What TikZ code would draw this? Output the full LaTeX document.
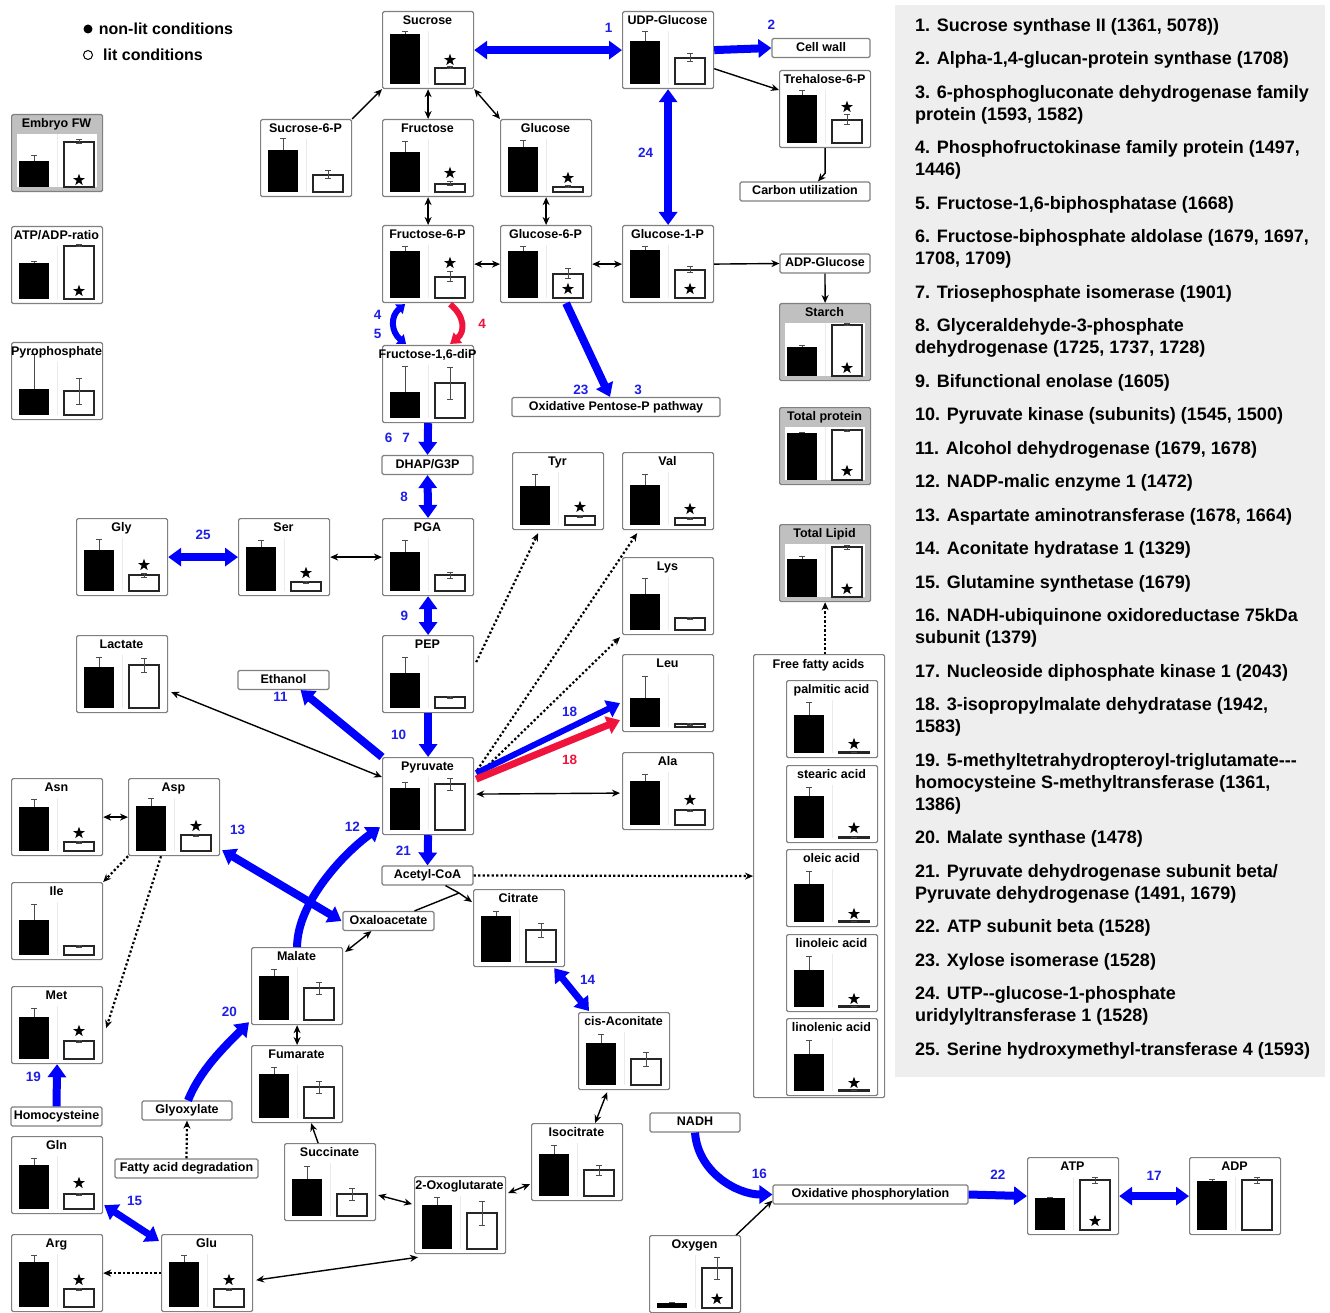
\documentclass[tikz,border=0pt]{standalone}
\usepackage{fontspec}
\setmainfont{Liberation Sans}
\usetikzlibrary{positioning, arrows.meta, shapes.geometric, calc}

\definecolor{flowblue}{RGB}{0,0,255}
\definecolor{flowred}{RGB}{240,20,60}
\definecolor{numblue}{RGB}{30,30,230}
\definecolor{boxgray}{RGB}{128,128,128}
\definecolor{panelgray}{RGB}{192,192,192}
\definecolor{legendgray}{RGB}{238,238,238}

\tikzset{
  chartbox/.style={draw=boxgray, line width=1.2pt, fill=white, rounded corners=1.5pt,
    minimum width=91pt, minimum height=77pt, inner sep=0pt},
  chartinner/.style={},
  charttitle/.style={font=\fontsize{12.5}{14}\selectfont\bfseries, inner sep=0pt, anchor=base},
  errbar/.style={draw=black!70, line width=1pt},
  whitebar/.style={draw=black!85, line width=1.2pt, fill=white},
  starmark/.style={star, star points=5, star point ratio=2.5, fill=black, inner sep=0pt, minimum size=12.5pt},
  lbl/.style={draw=boxgray, line width=1.2pt, fill=white, rounded corners=1.5pt,
    font=\fontsize{12.5}{14}\selectfont\bfseries, minimum height=19pt, inner sep=0pt,
    text height=9pt, text depth=2.5pt},
  num/.style={font=\fontsize{13.5}{15}\selectfont\bfseries, text=numblue, inner sep=1pt},
  rednum/.style={num, text=flowred},
  keytext/.style={font=\fontsize{16}{18}\selectfont\bfseries, inner sep=1pt},
  legendtext/.style={font=\fontsize{18}{22}\selectfont\bfseries, align=left, inner sep=0pt},
  bluearr/.style={draw=flowblue, line width=8pt, -{Triangle[length=13pt, width=18pt]}},
  bluedbl/.style={draw=flowblue, line width=8pt,
    {Triangle[length=13pt, width=18pt]}-{Triangle[length=13pt, width=18pt]}},
  redarr/.style={draw=flowred, line width=7pt, -{Triangle[length=13pt, width=18pt]}},
  thinarr/.style={line width=1.4pt, -{Stealth[length=8pt, width=7pt]}},
  thindbl/.style={line width=1.4pt, {Stealth[length=8pt, width=7pt]}-{Stealth[length=8pt, width=7pt]}},
  dotarr/.style={line width=2.2pt, dash pattern=on 2.2pt off 2.3pt, -{Stealth[length=8pt, width=7pt]}},
}

% chart box: name, left, top, title, black height, black error, white height, white error, star height
\newcommand{\metchart}[9]{%
  \node[chartbox, anchor=north west] (#1) at (#2,#3) {};
  \begin{scope}[shift={(#2,#3)}]
    \path[chartinner] (6,20) rectangle (86,73);
    \draw[black!8, line width=0.8pt] (46,20) -- (46,73);
    \fill (8,73) rectangle (38,{73-#5});
    \draw[errbar] (23,{73-#5}) -- (23,{73-#5-#6}) (20,{73-#5-#6}) -- (26,{73-#5-#6});
    \draw[whitebar] (53,73) rectangle (83,{73-#7});
    \draw[errbar] (68,{73-#7-#8}) -- (68,{73-#7+#8})
      (65,{73-#7-#8}) -- (71,{73-#7-#8}) (65,{73-#7+#8}) -- (71,{73-#7+#8});
    \ifnum#9>0 \node[starmark] at (68,{73-#9}) {};\fi
    \node[charttitle] at (45.5,13.5) {#4};
  \end{scope}}

\begin{document}
\begin{tikzpicture}[x=1pt, y=-1pt]
  \useasboundingbox (0,0) rectangle (1330,1313);

  % --- key ---
  \node[circle, fill=black, minimum size=9pt, inner sep=0pt] (nonlitdot) at (88,29) {};
  \node[keytext, right=5pt of nonlitdot] (nonlittext) {non-lit conditions};
  \node[circle, draw=black, line width=1pt, minimum size=9pt, inner sep=0pt] (litdot) at (88,55) {};
  \node[keytext, right=9pt of litdot] (littext) {lit conditions};

  % --- enzyme list ---
  \node[fill=legendgray, minimum width=430pt, minimum height=1072pt, inner sep=0pt, anchor=north west]
    (legendpanel) at (895,5) {};
  \node[legendtext, anchor=north west] (legendlist) at (915,18) {%
    1. Sucrose synthase II (1361, 5078))\\[11.5pt]
    2. Alpha-1,4-glucan-protein synthase (1708)\\[11.5pt]
    3. 6-phosphogluconate dehydrogenase family\\protein (1593, 1582)\\[11.5pt]
    4. Phosphofructokinase family protein (1497,\\1446)\\[11.5pt]
    5. Fructose-1,6-biphosphatase (1668)\\[11.5pt]
    6. Fructose-biphosphate aldolase (1679, 1697,\\1708, 1709)\\[11.5pt]
    7. Triosephosphate isomerase (1901)\\[11.5pt]
    8. Glyceraldehyde-3-phosphate\\dehydrogenase (1725, 1737, 1728)\\[11.5pt]
    9. Bifunctional enolase (1605)\\[11.5pt]
    10. Pyruvate kinase (subunits) (1545, 1500)\\[11.5pt]
    11. Alcohol dehydrogenase (1679, 1678)\\[11.5pt]
    12. NADP-malic enzyme 1 (1472)\\[11.5pt]
    13. Aspartate aminotransferase (1678, 1664)\\[11.5pt]
    14. Aconitate hydratase 1 (1329)\\[11.5pt]
    15. Glutamine synthetase (1679)\\[11.5pt]
    16. NADH-ubiquinone oxidoreductase 75kDa\\subunit (1379)\\[11.5pt]
    17. Nucleoside diphosphate kinase 1 (2043)\\[11.5pt]
    18. 3-isopropylmalate dehydratase (1942,\\1583)\\[11.5pt]
    19. 5-methyltetrahydropteroyl-triglutamate{-}{-}{-}\\homocysteine S-methyltransferase (1361,\\1386)\\[11.5pt]
    20. Malate synthase (1478)\\[11.5pt]
    21. Pyruvate dehydrogenase subunit beta/\\Pyruvate dehydrogenase (1491, 1679)\\[11.5pt]
    22. ATP subunit beta (1528)\\[11.5pt]
    23. Xylose isomerase (1528)\\[11.5pt]
    24. UTP{-}{-}glucose-1-phosphate\\uridylyltransferase 1 (1528)\\[11.5pt]
    25. Serine hydroxymethyl-transferase 4 (1593)};

  % --- plain label boxes ---
  \node[lbl, minimum width=98pt]  (cellwall) at (821,48)     {Cell wall};
  \node[lbl, minimum width=130pt] (carbon)   at (805,191.5)  {Carbon utilization};
  \node[lbl, minimum width=90pt]  (adpglc)   at (825,263.5)  {ADP-Glucose};
  \node[lbl, minimum width=208pt] (oppp)     at (616,407)    {Oxidative Pentose-P pathway};
  \node[lbl, minimum width=91pt]  (dhap)     at (427.5,465)  {DHAP/G3P};
  \node[lbl, minimum width=91pt]  (ethanol)  at (283.5,680)  {Ethanol};
  \node[lbl, minimum width=91pt]  (acetyl)   at (427.5,875.5) {Acetyl-CoA};
  \node[lbl, minimum width=91pt]  (oaa)      at (388.5,921)  {Oxaloacetate};
  \node[lbl, minimum width=91pt]  (homocys)  at (56.5,1116.5) {Homocysteine};
  \node[lbl, minimum width=90pt]  (glyox)    at (187,1110.5) {Glyoxylate};
  \node[lbl, minimum width=143pt] (fadeg)    at (186.5,1168.5) {Fatty acid degradation};
  \node[lbl, minimum width=90pt]  (nadh)     at (695,1122.5) {NADH};
  \node[lbl, minimum width=195pt] (oxphos)   at (870.5,1194.5) {Oxidative phosphorylation};

  % --- charts ---
  \begin{scope}[chartbox/.append style={fill=panelgray}, chartinner/.style={fill=white}]
    \metchart{embryo}{11}{114}{Embryo FW}{26}{5}{45}{2}{7}
    \metchart{starch}{779}{303}{Starch}{29}{1}{51}{1}{8}
    \metchart{protein}{779}{407}{Total protein}{47}{1}{50}{1}{9}
    \metchart{lipid}{779}{524}{Total Lipid}{38}{3}{50}{2}{8}
  \end{scope}
  \metchart{atpadp}{11}{226}{ATP/ADP-ratio}{36}{1}{53}{1}{8}
  \metchart{ppi}{11}{342}{Pyrophosphate}{26}{34}{24}{13}{0}
  \metchart{sucrose}{382}{11}{Sucrose}{50}{2}{16}{1}{24}
  \metchart{udpglc}{622}{11}{UDP-Glucose}{43}{9}{26}{4}{0}
  \metchart{treh}{779}{70}{Trehalose-6-P}{48}{4}{23}{5}{36}
  \metchart{suc6p}{260}{119}{Sucrose-6-P}{42}{11}{17}{4}{0}
  \metchart{fructose}{382}{119}{Fructose}{40}{10}{8}{2}{19}
  \metchart{glucose}{500}{119}{Glucose}{45}{6}{5}{1}{14}
  \metchart{f6p}{382}{225}{Fructose-6-P}{47}{4}{21}{5}{35}
  \metchart{g6p}{500}{225}{Glucose-6-P}{47}{4}{24}{5}{9}
  \metchart{g1p}{622}{225}{Glucose-1-P}{48}{3}{28}{3}{9}
  \metchart{f16p}{382}{345}{Fructose-1,6-diP}{26}{26}{35}{16}{0}
  \metchart{tyr}{512}{452}{Tyr}{39}{12}{9}{1}{18}
  \metchart{val}{622}{452}{Val}{40}{11}{7}{1}{16}
  \metchart{gly}{76}{518}{Gly}{41}{11}{16}{2}{26}
  \metchart{ser}{238}{518}{Ser}{44}{7}{9}{1}{18}
  \metchart{pga}{382}{518}{PGA}{39}{12}{16}{3}{0}
  \metchart{lys}{622}{557}{Lys}{36}{16}{12}{1}{0}
  \metchart{lactate}{76}{635}{Lactate}{41}{10}{43}{7}{0}
  \metchart{pep}{382}{635}{PEP}{35}{16}{11}{1}{0}
  \metchart{leu}{622}{654}{Leu}{29}{22}{3}{1}{0}
  \metchart{pyruvate}{382}{757}{Pyruvate}{42}{6}{46}{6}{0}
  \metchart{ala}{622}{752}{Ala}{44}{7}{15}{1}{25}
  \metchart{asn}{11}{778}{Asn}{44}{8}{9}{1}{18}
  \metchart{asp}{128}{778}{Asp}{45}{8}{16}{1}{25}
  \metchart{ile}{11}{882}{Ile}{35}{16}{9}{1}{0}
  \metchart{citrate}{473}{889}{Citrate}{46}{5}{32}{7}{0}
  \metchart{malate}{251}{947}{Malate}{44}{7}{32}{6}{0}
  \metchart{met}{11}{986}{Met}{42}{9}{18}{1}{28}
  \metchart{cisacon}{578}{1012}{cis-Aconitate}{42}{9}{26}{7}{0}
  \metchart{fumarate}{251}{1045}{Fumarate}{44}{7}{31}{6}{0}
  \metchart{isocit}{531}{1123}{Isocitrate}{42}{9}{26}{5}{0}
  \metchart{gln}{11}{1136}{Gln}{44}{7}{15}{1}{26}
  \metchart{succinate}{284}{1143}{Succinate}{37}{13}{22}{6}{0}
  \metchart{oxoglut}{414}{1176}{2-Oxoglutarate}{44}{8}{36}{12}{0}
  \metchart{atp}{1027}{1157}{ATP}{32}{1}{50}{3}{9}
  \metchart{adp}{1189}{1157}{ADP}{49}{2}{50}{3}{0}
  \metchart{oxygen}{649}{1235}{Oxygen}{5}{1}{40}{11}{9}
  \metchart{arg}{11}{1234}{Arg}{45}{7}{18}{1}{27}
  \metchart{glu}{161}{1234}{Glu}{45}{7}{18}{1}{27}

  % --- free fatty acids ---
  \node[chartbox, minimum width=131pt, minimum height=443pt, anchor=north west] (ffa) at (753,654) {};
  \node[charttitle] (ffatitle) at (818.5,668.5) {Free fatty acids};
  \metchart{palmitic}{786}{680}{palmitic acid}{38}{13}{1}{0}{9}
  \metchart{stearic}{786}{765}{stearic acid}{42}{9}{1}{0}{10}
  \metchart{oleic}{786}{849}{oleic acid}{38}{13}{1}{0}{8}
  \metchart{linoleic}{786}{934}{linoleic acid}{37}{14}{1}{0}{8}
  \metchart{linolenic}{786}{1018}{linolenic acid}{37}{14}{1}{0}{8}

  % --- sugars ---
  \draw[bluedbl] (sucrose.east) -- node[num, pos=.91, above=13pt] {1} (udpglc.west);
  \draw[bluearr] (udpglc.east) -- node[num, at end, above=13pt] {2} (cellwall.west);
  \draw[thinarr] (udpglc.-22) -- ($(treh.north west)+(0,20)$);
  \draw[thinarr] (treh.south) -- ++(0,25) -- ($(carbon.north)+(13,0)$);
  \draw[thinarr] (suc6p.north east) -- (sucrose.south west);
  \draw[thindbl] (sucrose.south) -- (fructose.north);
  \draw[thindbl] (sucrose.south east) -- (glucose.north west);
  \draw[bluedbl] (udpglc.south) -- node[num, pos=.47, left=10pt] {24} (g1p.north);
  \draw[thindbl] (fructose.south) -- (f6p.north);
  \draw[thindbl] (glucose.south) -- (g6p.north);
  \draw[thindbl] (f6p.east) -- (g6p.west);
  \draw[thindbl] (g6p.east) -- (g1p.west);
  \draw[thinarr] (g1p.east) -- (adpglc.west);
  \draw[thinarr] (adpglc.south) -- (starch.north);

  % --- glycolysis ---
  \draw[bluedbl, line width=6pt, {Triangle[length=8pt, width=12pt]}-{Triangle[length=8pt, width=12pt]}]
    ($(f6p.south)+(-23,1)$) .. controls +(-15,12) and +(-15,-12) .. ($(f16p.north)+(-22,-1)$)
    node[num, midway, left=9pt, align=center, font=\fontsize{13.5}{19}\selectfont\bfseries] {4\\5};
  \draw[draw=flowred, line width=6pt, -{Triangle[length=10pt, width=13pt]}]
    ($(f6p.south)+(22,1)$) .. controls +(15,12) and +(15,-12) .. ($(f16p.north)+(22,-1)$)
    node[rednum, midway, right=13pt] {4};
  \draw[bluearr] (f16p.south) -- node[num, pos=.47, left=13pt] {6\hspace{10pt}7} (dhap.north);
  \draw[bluedbl] (dhap.south) -- node[num, midway, left=15pt] {8} (pga.north);
  \draw[bluearr] ($(g6p.south)+(20,0)$) -- node[num, pos=.92, left=13pt] {23}
    node[num, pos=.92, right=23pt] {3} ($(oppp.north)+(-6,0)$);
  \draw[bluedbl] (gly.east) -- node[num, midway, above=12pt] {25} (ser.west);
  \draw[thindbl] (ser.east) -- (pga.west);
  \draw[bluedbl] (pga.south) -- node[num, midway, left=15pt] {9} (pep.north);
  \draw[bluearr] (pep.south) -- node[num, midway, left=17pt] {10} (pyruvate.north);
  \draw[dotarr] ($(pep.east)+(2,-12)$) -- ($(tyr.south)+(-20,3)$);
  \draw[dotarr] ($(pyruvate.east)+(3,-26)$) -- ($(val.south)+(-31,3)$);
  \draw[dotarr] ($(pyruvate.east)+(8,-25)$) -- ($(lys.south west)+(-2,2)$);
  \draw[bluearr] (pyruvate.north west) -- node[num, pos=.9, left=16pt] {11} ($(ethanol.south east)+(-29,0)$);
  \draw[thindbl] ($(pyruvate.west)+(0,-19)$) -- ($(lactate.east)+(3,18)$);
  \draw[draw=flowblue, line width=6pt, -{Triangle[length=13pt, width=18pt]}]
    ($(pyruvate.east)+(2,-23)$) -- node[num, pos=.65, above=7pt] {18} ($(leu.west)+(-2,10)$);
  \draw[redarr] ($(pyruvate.east)+(2,-17)$) -- node[rednum, pos=.65, below=10pt] {18} ($(leu.west)+(-2,27)$);
  \draw[thindbl] ($(pyruvate.east)+(2,-2)$) -- ($(ala.west)+(-2,2)$);
  \draw[bluearr] (pyruvate.south) -- node[num, midway, left=12pt] {21} (acetyl.north);
  \draw[dotarr] (acetyl.east) -- (ffa.west);
  \draw[dotarr] (lipid.south |- ffa.north) -- (lipid.south);

  % --- TCA cycle ---
  \coordinate (citjoin) at (459,893);
  \draw[line width=1.4pt] ($(acetyl.south)+(18,0)$) -- (citjoin);
  \draw[line width=1.4pt] ($(oaa.north)+(26,0)$) -- (citjoin);
  \draw[thinarr] (citjoin) -- ($(citrate.north west)+(-1,13)$);
  \draw[thindbl] ($(malate.north east)+(2,5)$) -- ($(oaa.south west)+(29,0)$);
  \draw[bluearr] (malate.north) .. controls +(0,-45) and +(-35,25) .. ($(pyruvate.south west)+(-2,-8)$)
    node[num, at end, left=15pt] {12};
  \draw[bluedbl] ($(asp.south east)+(2,-6)$) -- node[num, pos=0, right=3pt, yshift=20pt] {13} ($(oaa.west)+(-1,0)$);
  \draw[thindbl] (asn.east) -- (asp.west);
  \draw[dotarr] (asp.south west) -- (ile.north east);
  \draw[dotarr] ($(asp.south west)+(33,0)$) -- ($(met.east)+(3,3)$);
  \draw[bluearr] (homocys.north) -- node[num, pos=.7, left=11pt] {19} (met.south);
  \draw[bluearr] ($(glyox.north)+(1,0)$) .. controls +(12,-30) and +(-25,25) .. ($(malate.south west)+(-2,-3)$)
    node[num, at end, left=7pt, yshift=10pt] {20};
  \draw[dotarr] (fadeg.north) -- (glyox.south);
  \draw[thindbl] (malate.south) -- (fumarate.north);
  \draw[thinarr] ($(succinate.north)+(-12,0)$) -- ($(fumarate.south)+(14,0)$);
  \draw[thindbl] ($(succinate.east)+(2,13)$) -- ($(oxoglut.west)+(-2,-11)$);
  \draw[thindbl] ($(oxoglut.north east)+(2,17)$) -- ($(isocit.south west)+(-1,-17)$);
  \draw[thindbl] ($(isocit.north)+(18,0)$) -- ($(cisacon.south)+(-17,2)$);
  \draw[bluedbl, line width=7pt] ($(citrate.south east)+(-11,1)$) -- node[num, midway, right=4pt, yshift=10pt] {14}
    ($(cisacon.north west)+(11,-1)$);
  \draw[thindbl] ($(glu.east)+(3,7)$) -- ($(oxoglut.south west)+(4,3)$);
  \draw[dotarr] (glu.west) -- (arg.east);
  \draw[bluedbl, line width=7pt] ($(gln.south east)+(1,-9)$) -- node[num, midway, above=13pt, xshift=3pt] {15}
    ($(glu.north west)+(-2,7)$);

  % --- energy ---
  \draw[bluearr] (nadh.south) .. controls +(3,40) and +(-35,0) .. (oxphos.west)
    node[num, at end, above=11pt, xshift=-13pt] {16};
  \draw[thinarr] ($(oxygen.north east)+(-5,0)$) -- ($(oxphos.south west)+(0,-4)$);
  \draw[bluearr] (oxphos.east) -- node[num, midway, above=11pt] {22} (atp.west);
  \draw[bluedbl] (atp.east) -- node[num, midway, above=11pt] {17} (adp.west);
\end{tikzpicture}
\end{document}
